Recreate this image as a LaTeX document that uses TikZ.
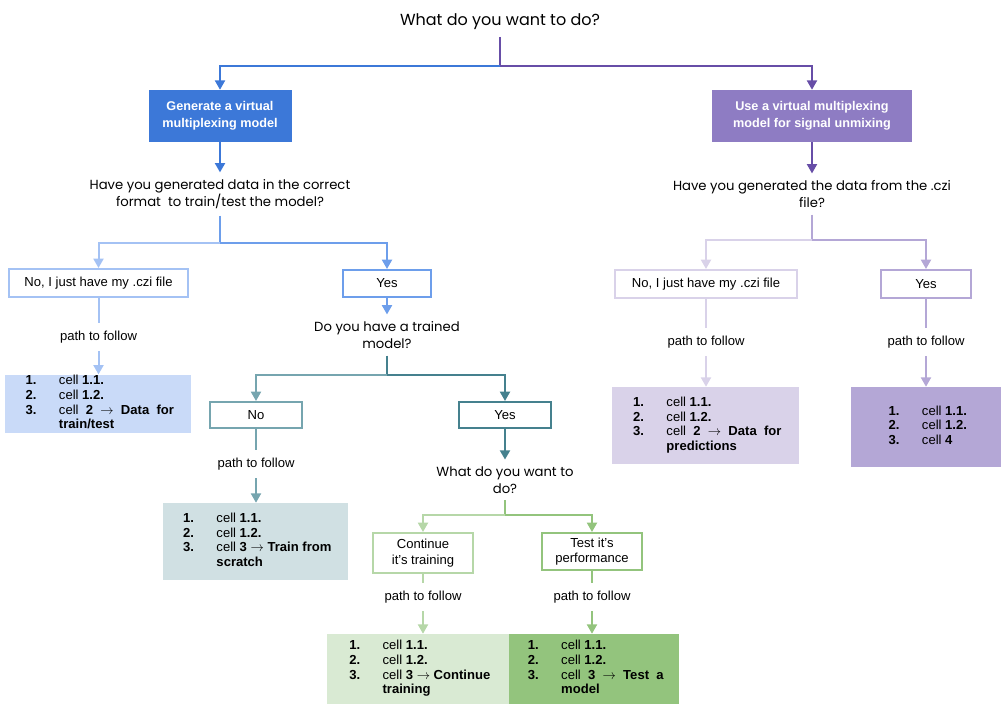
\documentclass[tikz,border=0pt]{standalone}
\usepackage{fontspec}
\setmainfont{Liberation Sans}
\newfontfamily\askfont{Poppins}
\usetikzlibrary{arrows.meta}
% colours of the branches
\definecolor{genblue}{HTML}{3C78D8}
\definecolor{usepurple}{HTML}{8E7CC3}
\definecolor{darkpurple}{HTML}{674EA7}
\definecolor{midblue}{HTML}{6D9EEB}
\definecolor{paleblue}{HTML}{A4C2F4}
\definecolor{fillblue}{HTML}{C9DAF8}
\definecolor{darkteal}{HTML}{45818E}
\definecolor{midteal}{HTML}{76A5AF}
\definecolor{fillteal}{HTML}{D0E0E3}
\definecolor{midgreen}{HTML}{93C47D}
\definecolor{palegreen}{HTML}{B6D7A8}
\definecolor{fillgreen}{HTML}{D9EAD3}
\definecolor{midpurple}{HTML}{B4A7D6}
\definecolor{palepurple}{HTML}{D9D2E9}
\def\CellList#1{
    \renewcommand\arraystretch{1.0}
    \begin{tabular}{@{}p{25pt}@{}l@{}}
     \textbf{1.} & cell \textbf{1.1.}\\
     \textbf{2.} & cell \textbf{1.2.}\\
     \textbf{3.} & #1
    \end{tabular}
}
\def\goesto{$\rightarrow$}

\begin{document}
\begin{tikzpicture}[x=0.75pt,y=-0.75pt,
    sz/.style 2 args={minimum width=#1*0.75pt,minimum height=#2*0.75pt},
    wire/.style={draw=#1,line width=1.5pt},
    tip/.style={-{Triangle[length=7pt,width=7.5pt]}},
    choice/.style={draw=#1,line width=1.5pt,fill=white,inner sep=0pt,align=center,
      font=\fontsize{9.8}{11.5}\selectfont},
    head/.style={fill=#1,text=white,inner sep=0pt,align=center,
      font=\bfseries\fontsize{9.5}{12.5}\selectfont},
    list/.style={fill=#1,inner sep=0pt,font=\fontsize{9.8}{11}\selectfont},
    ask/.style={align=center,inner sep=5pt,font=\askfont\fontsize{9.9}{12.8}\selectfont},
    walk/.style={inner xsep=0pt,inner ysep=6pt,font=\fontsize{9.8}{11.5}\selectfont}]
    \useasboundingbox (0,0) rectangle (1001,707);

    % questions
    \node[ask] (q0) at (500,22) {\fontsize{12}{14}\selectfont What do you want to do?};
    \node[ask] (q1) at (220,194) {Have you generated data in the correct\\format\ \ to train/test the model?};
    \node[ask] (q2) at (812,194) {Have you generated the data from the .czi\\file?};
    \node[ask] (q3) at (387,335) {Do you have a trained\\model?};
    \node[ask] (q4) at (505,480) {What do you want to\\do?};

    % first choice
    \node[head=genblue,sz={143}{52}] (gen) at (220,116) {Generate a virtual\\multiplexing model};
    \node[head=usepurple,sz={200}{52}] (use) at (812,116) {Use a virtual multiplexing\\model for signal unmixing};

    % answers
    \node[choice=paleblue,sz={179}{28}] (noA) at (98.5,283) {No, I just have my .czi file};
    \node[choice=midblue,sz={88}{27}] (yesA) at (387,283.5) {Yes};
    \node[choice=midteal,sz={92}{26}] (noB) at (256,415) {No};
    \node[choice=darkteal,sz={92}{26}] (yesB) at (505,415) {Yes};
    \node[choice=palegreen,sz={100}{40}] (contC) at (423,553) {Continue\\it's training};
    \node[choice=midgreen,sz={100}{37}] (testC) at (592,551.5) {Test it's\\performance};
    \node[choice=palepurple,sz={182}{28}] (noD) at (706,284) {No, I just have my .czi file};
    \node[choice=midpurple,sz={90}{28}] (yesD) at (926,284) {Yes};

    % path labels
    \node[walk] (pA) at (98.5,337) {path to follow};
    \node[walk] (pB) at (256,464) {path to follow};
    \node[walk] (pC) at (423,597) {path to follow};
    \node[walk] (pD) at (592,597) {path to follow};
    \node[walk] (pE) at (706,342) {path to follow};
    \node[walk] (pF) at (926,342) {path to follow};

    % cells to run
    \node[list=fillblue,sz={186}{52}] (listA) at (98,404)
      {\CellList{cell \ \textbf{2} \ \goesto\ \ \textbf{Data\ \ for}\\ & \textbf{train/test}}};
    \node[list=fillteal,sz={185}{77}] (listB) at (255.5,541.5)
      {\CellList{cell \textbf{3} \goesto\ \textbf{Train from}\\ & \textbf{scratch}}};
    \node[list=fillgreen,sz={182}{70}] (listC) at (418,669)
      {\CellList{cell \textbf{3} \goesto\ \textbf{Continue}\\ & \textbf{training}}};
    \node[list=midgreen,sz={170}{70}] (listD) at (594,669)
      {\CellList{cell \ \textbf{3} \ \goesto\ \ \textbf{Test\ \ a}\\ & \textbf{model}}};
    \node[list=palepurple,sz={187}{77}] (listE) at (705.5,425.5)
      {\CellList{cell \ \textbf{2} \ \goesto\ \ \textbf{Data\ \ for}\\ & \textbf{predictions}}};
    \node[list=midpurple,sz={150}{80}] (listF) at (926,427)
      {\CellList{cell \textbf{4}}};

    % junctions
    \coordinate (j0) at (500,66);
    \coordinate (j1) at (220,243);
    \coordinate (j2) at (812,240);
    \coordinate (j3) at (387,375);
    \coordinate (j4) at (505,515);

    \draw[wire=darkpurple] (q0.south) -- (j0);
    \draw[wire=genblue,tip] (j0) -| (gen);
    \draw[wire=darkpurple,tip] (j0) -| (use);
    \draw[wire=genblue,tip] (gen) -- (q1);
    \draw[wire=darkpurple,tip] (use) -- (q2);

    \draw[wire=midblue] (q1.south) -- (j1);
    \draw[wire=paleblue,tip] (j1) -| (noA);
    \draw[wire=midblue,tip] (j1) -| (yesA);
    \draw[wire=paleblue] (noA) -- (pA);
    \draw[wire=paleblue,tip] (pA) -- (pA |- listA.north);
    \draw[wire=midblue,tip] (yesA) -- (q3);

    \draw[wire=darkteal] (q3.south) -- (j3);
    \draw[wire=midteal,tip] (j3) -| (noB);
    \draw[wire=darkteal,tip] (j3) -| (yesB);
    \draw[wire=midteal] (noB) -- (pB);
    \draw[wire=midteal,tip] (pB) -- (pB |- listB.north);
    \draw[wire=darkteal,line width=2.2pt,tip] (yesB) -- (q4);

    \draw[wire=midgreen] (q4.south) -- (j4);
    \draw[wire=palegreen,tip] (j4) -| (contC);
    \draw[wire=midgreen,tip] (j4) -| (testC);
    \draw[wire=palegreen] (contC) -- (pC);
    \draw[wire=palegreen,tip] (pC) -- (pC |- listC.north);
    \draw[wire=midgreen] (testC) -- (pD);
    \draw[wire=midgreen,tip] (pD) -- (pD |- listD.north);

    \draw[wire=midpurple] (q2.south) -- (j2);
    \draw[wire=palepurple,tip] (j2) -| (noD);
    \draw[wire=midpurple,tip] (j2) -| (yesD);
    \draw[wire=palepurple] (noD) -- (pE);
    \draw[wire=palepurple,tip] (pE) -- (pE |- listE.north);
    \draw[wire=midpurple] (yesD) -- (pF);
    \draw[wire=midpurple,tip] (pF) -- (pF |- listF.north);
\end{tikzpicture}
\end{document}
